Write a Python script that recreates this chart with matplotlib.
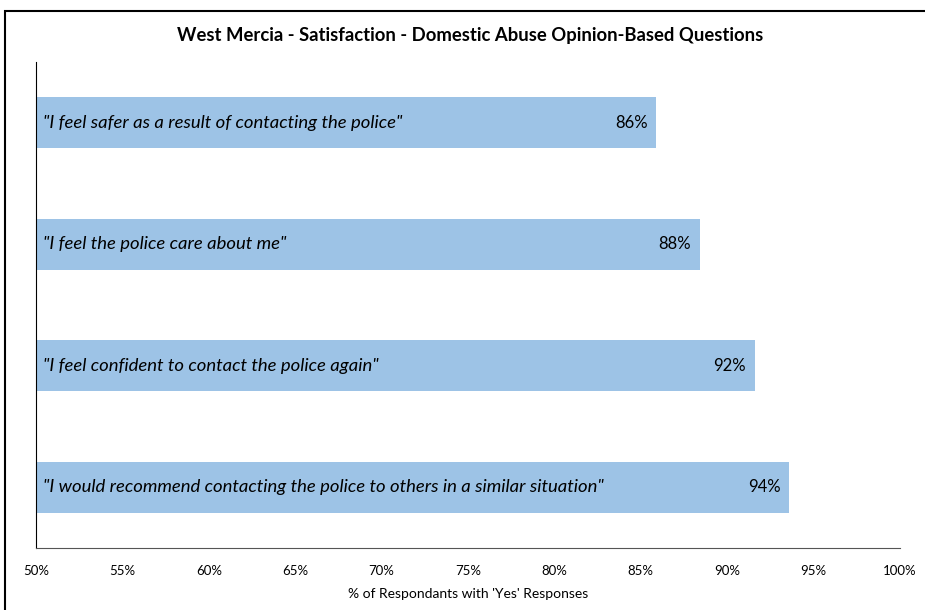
import matplotlib
matplotlib.use("Agg")
import matplotlib.pyplot as plt
from matplotlib.patches import Rectangle

questions = [
    '"I feel safer as a result of contacting the police"',
    '"I feel the police care about me"',
    '"I feel confident to contact the police again"',
    '"I would recommend contacting the police to others in a similar situation"',
]
values = [85.9, 88.4, 91.6, 93.6]
value_labels = ["86%", "88%", "92%", "94%"]
x_ticks = [50, 55, 60, 65, 70, 75, 80, 85, 90, 95, 100]

plt.rcParams["font.family"] = ["Lato", "DejaVu Sans"]

fig = plt.figure(figsize=(9.25, 6.1), dpi=100)
ax = fig.add_axes([36 / 925, 62 / 610, 864 / 925, 486 / 610])

# chart frame
fig.patches.append(Rectangle((5 / 925, -0.1), 1.0, (599 - 0) / 610 + 0.1,
                             transform=fig.transFigure, fill=False,
                             edgecolor="black", linewidth=1.5))

ypos = list(range(len(questions)))
ax.barh(ypos, [v - 50 for v in values], left=50, height=0.42, color="#9DC3E6")
for y, q, v, lab in zip(ypos, questions, values, value_labels):
    ax.text(50.4, y, q, va="center", ha="left", fontsize=13.3, style="italic")
    ax.text(v - 0.5, y, lab, va="center", ha="right", fontsize=12)

ax.set_xlim(50, 100)
ax.set_ylim(3.5, -0.5)
ax.set_yticks([])
ax.set_xticks(x_ticks)
ax.set_xticklabels([f"{t}%" for t in x_ticks], fontsize=9.5)
ax.tick_params(axis="x", length=0, pad=12)
ax.spines["top"].set_visible(False)
ax.spines["right"].set_visible(False)
ax.spines["left"].set_linewidth(0.8)
ax.spines["bottom"].set_color("#555555")
ax.set_xlabel("% of Respondants with 'Yes' Responses", fontsize=10, labelpad=8)

fig.text(470 / 925, 1 - 36 / 610,
         "West Mercia - Satisfaction - Domestic Abuse Opinion-Based Questions",
         ha="center", va="center", fontsize=13.3, fontweight="bold")

fig.savefig("out.png", dpi=100)
